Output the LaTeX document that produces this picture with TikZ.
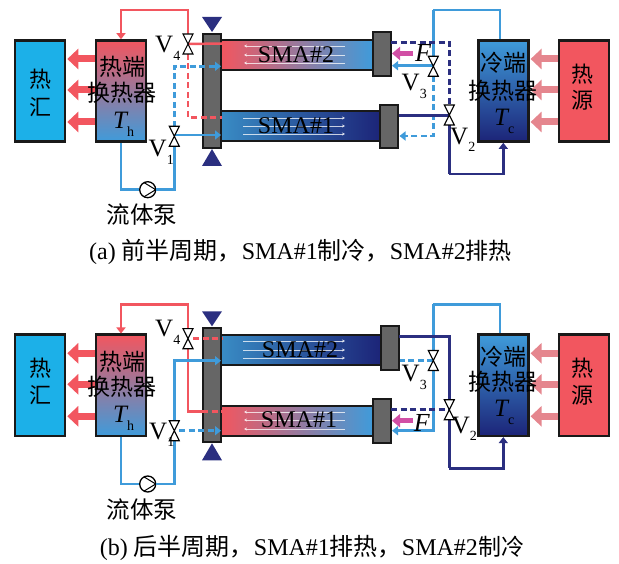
\documentclass[tikz,border=0pt]{standalone}
\usepackage{fontspec}
\setmainfont{Liberation Serif}
\newfontfamily\cjk{Noto Sans CJK SC}
\usetikzlibrary{arrows.meta,calc}
\definecolor{hotred}{HTML}{F2565F}
\definecolor{midpurple}{HTML}{8A5A9C}
\definecolor{pipeblue}{HTML}{3F9BDA}
\definecolor{sinkblue}{HTML}{1CB0E8}
\definecolor{navy}{HTML}{2B2F80}
\definecolor{deepblue}{HTML}{1C2478}
\definecolor{pinkflow}{HTML}{E5868E}
\definecolor{forcepink}{HTML}{D14FA5}
\newcommand{\hz}[2][22]{{\fontsize{#1}{#1}\cjk #2}}
\newcommand{\sublab}[4]{\node[anchor=base west,inner sep=0pt,font=\fontsize{25}{25}\selectfont] (#1) at (#2) {#3\raisebox{-7.5pt}{\fontsize{14}{14}\selectfont #4}};}
\newcommand{\valve}[2]{
  \node[valvebox] (#1) at (#2) {};
  \draw[valveline] (#1.north west) -- (#1.north east) -- (#1.south west) -- (#1.south east) -- cycle;
}
\tikzset{
  box/.style={draw=black!90,line width=2.6pt,minimum width=50pt,minimum height=101pt,inner sep=0pt},
  tube/.style={draw=black!90,line width=2pt,minimum height=30pt,inner sep=0pt},
  endplate/.style={draw=black!90,fill=black!60,line width=2.2pt,minimum width=18pt,inner sep=0pt},
  valvebox/.style={minimum width=10pt,minimum height=20pt,inner sep=0pt,outer sep=0pt},
  valveline/.style={draw=black,fill=white,line width=1.1pt},
  redpipe/.style={draw=hotred,line width=2.5pt},
  bluepipe/.style={draw=pipeblue,line width=2.5pt},
  navypipe/.style={draw=navy,line width=2.5pt},
  tipped/.style={-{Triangle[length=6pt,width=9pt]}},
  broken/.style={dash pattern=on 6pt off 3.5pt},
  hotflow/.style={draw=hotred,line width=7pt,-{Triangle[length=11pt,width=20pt]}},
  coldflow/.style={draw=pinkflow,line width=7pt,-{Triangle[length=11pt,width=20pt]}},
  forceflow/.style={draw=forcepink,line width=5pt,-{Triangle[length=8pt,width=13pt]}},
  fin/.style={draw=white,opacity=.75,line width=.6pt,-{Stealth[length=3pt,width=3pt]}},
  pumpnode/.style={draw=black,fill=white,circle,line width=1.3pt,minimum size=16pt,inner sep=0pt},
  sma/.style={font=\fontsize{24}{24}\selectfont,inner sep=0pt},
  forcelab/.style={font=\fontsize{26}{26}\selectfont\itshape,inner sep=0pt},
  zh/.style={inner sep=0pt}
}
\begin{document}
\begin{tikzpicture}[x=1pt,y=-1pt]
  \useasboundingbox (0,0) rectangle (619,564);

  % parts that both half cycles share
  \foreach \yo/\panel in {0/a,294.3/b} {
    \node[box,fill=sinkblue] (sink\panel) at (40,\yo+91) {};
    \node[box,top color=hotred,middle color=midpurple,bottom color=pipeblue] (hot\panel) at (121,\yo+91) {};
    \node[box,top color=pipeblue,bottom color=deepblue] (cold\panel) at (503.3,\yo+91) {};
    \node[box,fill=hotred] (source\panel) at (584,\yo+91) {};
    \foreach \dy in {-32,-1,31} {
      \draw[hotflow] ([shift={(0,\dy)}]hot\panel.west) -- ([shift={(1,\dy)}]sink\panel.east);
      \draw[coldflow] ([shift={(0,\dy)}]source\panel.west) -- ([shift={(1,\dy)}]cold\panel.east);
    }
    \coordinate (tophot\panel) at (188,\yo+10);
    \coordinate (topcold\panel) at (433.3,\yo+10);
    \coordinate (outcold\panel) at (500,\yo+39);
    \coordinate (lownavy\panel) at (449.3,\yo+174);
    \fill[navy] (202,\yo+17) -- (222,\yo+17) -- (212,\yo+32) -- cycle;
    \fill[navy] (202,\yo+166) -- (222,\yo+166) -- (212,\yo+149) -- cycle;
    \node[pumpnode] (pump\panel) at (147.7,\yo+189.7) {};
    \draw[bluepipe] (hot\panel.south) |- (pump\panel.west);
    \draw[black,line width=1pt] ([shift={(-3.5,-7)}]pump\panel.center) -- ([shift={(8,0)}]pump\panel.center) -- ([shift={(-3.5,7)}]pump\panel.center);
    \draw[bluepipe] (outcold\panel) -- (outcold\panel |- topcold\panel) -- (topcold\panel);
    \draw[navypipe,tipped] (lownavy\panel) -| (cold\panel.south);
  }

  % (a) SMA#1 cools, SMA#2 rejects heat
  \begin{scope}
    \node[tube,minimum width=152pt,left color=hotred,middle color=midpurple,right color=pipeblue] (smatwoa) at (297,55) {};
    \node[tube,minimum width=160pt,left color=pipeblue!90!black,right color=deepblue] (smaonea) at (301,126.5) {};
    \foreach \fy in {46,55,63} \draw[fin] (345,\fy) -- (244,\fy);
    \foreach \fy in {118,126,134} \draw[fin] (243,\fy) -- (345,\fy);
    \node[endplate,minimum height=114pt] (platea) at (211.7,90.7) {};
    \node[endplate,minimum height=44pt] (platetwoa) at (381.7,53.7) {};
    \node[endplate,minimum height=43pt] (plateonea) at (389.3,126.5) {};
    \coordinate (hotrowa) at (222,43.5);
    \coordinate (hotbenda) at (188,117.3);
    \coordinate (hotenda) at (222,117.3);
    \coordinate (inlettwoa) at (221,66.3);
    \coordinate (inletonea) at (221,135);
    \coordinate (outtwoa) at (391,42.3);
    \coordinate (outonea) at (398.5,115.3);
    \coordinate (backtwoa) at (392,65.7);
    \coordinate (backonea) at (399.5,136);
    \coordinate (forcea) at (413,53.5);
    \coordinate (forcetipa) at (392,53.5);
    \coordinate (pumpupa) at (174.3,189.7);
    \draw[bluepipe] (pumpa.east) -- (pumpupa) -- (174.3,146);
    \draw[redpipe,tipped] (188,34) -- (tophota) -| (hota.north);
    \draw[redpipe] (188,44) -- (hotrowa);
    \draw[redpipe,broken] (188,54) -- (hotbenda) -- (hotenda);
    \draw[bluepipe,broken,tipped] (174.3,127) |- (inlettwoa);
    \draw[bluepipe,tipped] (174.3,135) -- (inletonea);
    \draw[bluepipe] (topcolda) -- (433.3,57);
    \draw[bluepipe,tipped] (433.3,65.7) -- (backtwoa);
    \draw[bluepipe,broken,tipped] (433.3,76) |- (backonea);
    \draw[navypipe,broken] (outtwoa) -| (449.3,105);
    \draw[navypipe] (outonea) -- (449.3,115.3);
    \draw[navypipe] (449.3,125) -- (lownavya);
    \valve{vfoura}{188,44}
    \valve{vonea}{174.3,136.3}
    \valve{vthreea}{433.3,66.3}
    \valve{vtwoa}{449.3,115}
    \draw[forceflow] (forcea) -- (forcetipa);
    \node[sma] (labtwoa) at (296,55) {SMA\#2};
    \node[sma] (labonea) at (296,126) {SMA\#1};
    \node[forcelab] (fa) at (423,53) {F};
    \sublab{vlabfoura}{155,53}{V}{4}
    \sublab{vlabonea}{148.5,157}{V}{1}
    \sublab{vlabthreea}{401.5,91}{V}{3}
    \sublab{vlabtwoa}{450,144.5}{V}{2}
    \sublab{thlaba}{113,129}{\itshape T}{\upshape h}
    \sublab{tclaba}{494,126}{\itshape T}{\upshape c}
    \node[zh] (sinktopa) at (40,79) {\hz{热}};
    \node[zh] (sinklowa) at (40,107) {\hz{汇}};
    \node[zh] (hottexta) at (122,67) {\hz[23]{热端}};
    \node[zh] (hotwordsa) at (122,93) {\hz[23]{换热器}};
    \node[zh] (coldtexta) at (503,63) {\hz[23]{冷端}};
    \node[zh] (coldwordsa) at (503,91) {\hz[23]{换热器}};
    \node[zh] (sourcetopa) at (582,74) {\hz{热}};
    \node[zh] (sourcelowa) at (582,100) {\hz{源}};
    \node[zh] (pumptexta) at (142,215) {\hz[23.5]{流体泵}};
    \node[zh,font=\fontsize{24}{24}\selectfont] (captiona) at (300.5,252)
      {(a) \hz[24]{前半周期，}SMA\#1\hz[24]{制冷，}SMA\#2\hz[23]{排热}};
  \end{scope}

  % (b) SMA#1 rejects heat, SMA#2 cools
  \begin{scope}
    \node[tube,minimum width=160pt,left color=pipeblue!90!black,right color=deepblue] (smatwob) at (301,349.6) {};
    \node[tube,minimum width=152pt,left color=hotred,middle color=midpurple,right color=pipeblue] (smaoneb) at (297,420.8) {};
    \foreach \fy in {341,350,358} \draw[fin] (243,\fy) -- (345,\fy);
    \foreach \fy in {412,420,429} \draw[fin] (345,\fy) -- (244,\fy);
    \node[endplate,minimum height=114pt] (plateb) at (211.7,385.3) {};
    \node[endplate,minimum height=44pt] (platetwob) at (389.6,348) {};
    \node[endplate,minimum height=44pt] (plateoneb) at (381.7,421) {};
    \coordinate (hotrowb) at (222,338.3);
    \coordinate (hotbendb) at (188,411.7);
    \coordinate (hotplateb) at (202,411.7);
    \coordinate (hotendb) at (222,411.7);
    \coordinate (inlettwob) at (221,360.7);
    \coordinate (inletoneb) at (221,430.7);
    \coordinate (outtwob) at (399,336.7);
    \coordinate (outoneb) at (391,409.3);
    \coordinate (backtwob) at (400,360.7);
    \coordinate (backoneb) at (392,430.7);
    \coordinate (forceb) at (413,420.7);
    \coordinate (forcetipb) at (392,420.7);
    \coordinate (pumpupb) at (174.3,484);
    \draw[bluepipe] (pumpb.east) -- (pumpupb) -- (174.3,440);
    \draw[redpipe,tipped] (188,329) -- (tophotb) -| (hotb.north);
    \draw[redpipe,broken] (193,338.3) -- (hotrowb);
    \draw[redpipe] (188,348) -- (hotbendb) -- (hotplateb);
    \draw[redpipe,broken] (hotplateb) -- (hotendb);
    \draw[bluepipe,tipped] (174.3,421) |- (inlettwob);
    \draw[bluepipe,broken,tipped] (179,430.7) -- (inletoneb);
    \draw[bluepipe] (topcoldb) -- (433.3,351);
    \draw[bluepipe,tipped] (433.3,370) |- (backoneb);
    \draw[bluepipe,broken] (433.3,360.7) -- (backtwob);
    \draw[navypipe] (outtwob) -| (449.3,400);
    \draw[navypipe,broken] (outoneb) -- (449.3,409.3);
    \draw[navypipe] (449.3,419) -- (lownavyb);
    \valve{vfourb}{188,338.7}
    \valve{voneb}{174.3,430.7}
    \valve{vthreeb}{433.3,360.5}
    \valve{vtwob}{449.3,409.7}
    \draw[forceflow] (forceb) -- (forcetipb);
    \node[sma] (labtwob) at (300,350) {SMA\#2};
    \node[sma] (laboneb) at (299,420) {SMA\#1};
    \node[forcelab] (fb) at (421.7,423) {F};
    \sublab{vlabfourb}{155,336.7}{V}{4}
    \sublab{vlaboneb}{149,439}{V}{1}
    \sublab{vlabthreeb}{401.5,381.7}{V}{3}
    \sublab{vlabtwob}{451.7,433.3}{V}{2}
    \sublab{thlabb}{113,422.7}{\itshape T}{\upshape h}
    \sublab{tclabb}{494,416.7}{\itshape T}{\upshape c}
    \node[zh] (sinktopb) at (40,368) {\hz{热}};
    \node[zh] (sinklowb) at (40,395) {\hz{汇}};
    \node[zh] (hottextb) at (122,362) {\hz[23]{热端}};
    \node[zh] (hotwordsb) at (122,387) {\hz[23]{换热器}};
    \node[zh] (coldtextb) at (503,357) {\hz[23]{冷端}};
    \node[zh] (coldwordsb) at (503,382) {\hz[23]{换热器}};
    \node[zh] (sourcetopb) at (582,368) {\hz{热}};
    \node[zh] (sourcelowb) at (582,395) {\hz{源}};
    \node[zh] (pumptextb) at (142,510) {\hz[23.5]{流体泵}};
    \node[zh,font=\fontsize{24}{24}\selectfont] (captionb) at (312,548)
      {(b) \hz[24]{后半周期，}SMA\#1\hz[24]{排热，}SMA\#2\hz[23]{制冷}};
  \end{scope}
\end{tikzpicture}
\end{document}
